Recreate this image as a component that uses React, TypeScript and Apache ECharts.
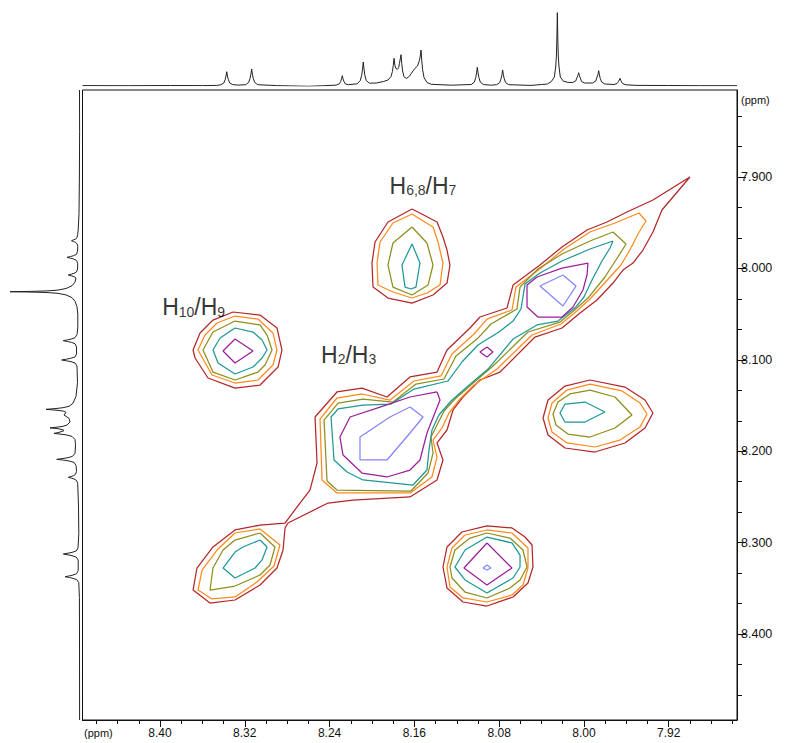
import React, { useEffect, useRef } from "react";
import * as echarts from "echarts";

// ---------- axes (ppm) ----------
const X_MIN = 7.8556;
const X_MAX = 8.4731;
const Y_MIN = 7.8048;
const Y_MAX = 8.4941;

const xMajorTicks = [7.92, 8.0, 8.08, 8.16, 8.24, 8.32, 8.4];
const xMinorTicks = [7.86, 7.88, 7.9, 7.94, 7.96, 7.98, 8.02, 8.04, 8.06, 8.1, 8.12, 8.14, 8.18, 8.2, 8.22, 8.26, 8.28, 8.3, 8.34, 8.36, 8.38, 8.42, 8.44, 8.46];
const yMajorTicks = [7.9, 8.0, 8.1, 8.2, 8.3, 8.4];
const yMinorTicks = [7.8333, 7.8667, 7.9333, 7.9667, 8.0333, 8.0667, 8.1333, 8.1667, 8.2333, 8.2667, 8.3333, 8.3667, 8.4333, 8.4667];

// ---------- 1D projections: [ppm, intensity] ----------
const topSpectrum = [
  [8.4731, 0.4], [8.43, 0.3], [8.39, 0.5], [8.36, 0.4],
  [8.3464, 0.6], [8.3427, 1.2], [8.3398, 3.0], [8.3385, 6.4], [8.3377, 10.0], [8.337, 14.3], [8.3363, 10.0], [8.3355, 6.4], [8.3342, 3.0], [8.3313, 1.4], [8.326, 0.9],
  [8.3192, 1.3], [8.3163, 3.6], [8.315, 7.7], [8.3142, 11.9], [8.3135, 17.0], [8.3128, 11.9], [8.312, 7.7], [8.3107, 3.6], [8.3078, 1.3],
  [8.29, 0.4], [8.26, -0.3], [8.245, 0.3],
  [8.2337, 0.9], [8.2308, 2.2], [8.2295, 4.6], [8.2287, 7.2], [8.228, 10.3], [8.2273, 7.2], [8.2265, 4.6], [8.2252, 2.2], [8.2223, 1.3],
  [8.2139, 2.2], [8.211, 5.5], [8.2097, 10.8], [8.2089, 16.8], [8.2082, 24.0], [8.2075, 16.8], [8.2067, 10.8], [8.2054, 5.5], [8.2025, 2.8],
  [8.196, 3.0], [8.189, 4.5],
  [8.1849, 6.0], [8.182, 9.5], [8.1807, 14.5], [8.1799, 20.5], [8.1792, 27.7], [8.1784, 21.0], [8.1774, 17.5], [8.1759, 16.7], [8.1748, 18.5], [8.1741, 22.5], [8.1733, 27.0], [8.1726, 31.3], [8.1719, 22.5], [8.1711, 15.0], [8.1698, 9.5], [8.1685, 8.0], [8.1672, 7.7], [8.1645, 10.0], [8.162, 14.0], [8.1594, 17.7], [8.157, 20.0], [8.1552, 25.7], [8.1544, 30.0], [8.1537, 36.0], [8.153, 25.2], [8.1522, 16.2], [8.1509, 8.5], [8.148, 3.4], [8.144, 1.7],
  [8.125, 0.8],
  [8.1063, 1.5], [8.1034, 3.9], [8.1021, 8.4], [8.1013, 13.1], [8.1006, 18.7], [8.0999, 13.1], [8.0991, 8.4], [8.0978, 3.9], [8.0949, 1.5],
  [8.088, 0.8],
  [8.0824, 1.3], [8.0795, 3.4], [8.0782, 7.2], [8.0774, 11.2], [8.0767, 16.0], [8.076, 11.2], [8.0752, 7.2], [8.0739, 3.4], [8.071, 1.3],
  [8.05, 0.6], [8.04, 1.5],
  [8.0345, 2.0], [8.0308, 4.4], [8.0279, 9.0], [8.0266, 20.0], [8.026, 30.0], [8.0256, 45.0], [8.0251, 73.3], [8.0246, 45.0], [8.0242, 30.0], [8.0236, 20.0], [8.0223, 9.0], [8.0194, 4.8], [8.015, 3.6],
  [8.0107, 3.5], [8.0078, 5.0], [8.0065, 8.5], [8.0057, 10.5], [8.005, 13.3], [8.0043, 10.5], [8.0035, 8.0], [8.0022, 4.5], [7.9993, 3.0],
  [7.9918, 3.0], [7.9889, 5.0], [7.9876, 9.0], [7.9868, 11.5], [7.9861, 15.3], [7.9854, 11.0], [7.9846, 7.5], [7.9833, 4.0], [7.9804, 2.0],
  [7.9717, 1.5], [7.9688, 2.5], [7.9675, 4.3], [7.9667, 6.0], [7.966, 7.7], [7.9653, 5.8], [7.9645, 4.0], [7.9632, 2.2], [7.9603, 1.2],
  [7.95, 0.6], [7.92, 0.5], [7.89, 0.3], [7.8556, 0.3],
];

const leftSpectrum = [
  [7.8048, 0.5], [7.85, 0.4], [7.9, 0.6], [7.94, 1.0], [7.958, 1.8],
  [7.9631, 2.4], [7.9664, 3.0], [7.9679, 4.5], [7.9688, 6.5], [7.9697, 8.5], [7.9706, 6.5], [7.9715, 4.5], [7.973, 3.0], [7.9763, 2.2],
  [7.9813, 2.5], [7.9846, 3.5], [7.9861, 6.5], [7.987, 9.5], [7.9879, 13.0], [7.9888, 9.5], [7.9897, 6.5], [7.9912, 3.5], [7.9945, 2.3],
  [8.0006, 2.4], [8.0039, 3.5], [8.0054, 6.0], [8.0063, 8.7], [8.0072, 11.7], [8.0081, 8.7], [8.009, 6.0], [8.0105, 4.0],
  [8.015, 5.0], [8.019, 8.0], [8.022, 14.0], [8.0237, 22.0], [8.0246, 33.0], [8.0251, 48.0], [8.0255, 70.0], [8.0259, 48.0], [8.0264, 33.0], [8.0273, 22.0], [8.029, 14.0], [8.032, 8.0], [8.036, 5.0], [8.042, 3.0], [8.05, 2.2], [8.065, 2.2],
  [8.0725, 3.0], [8.0758, 5.0], [8.0773, 9.0], [8.0782, 12.5], [8.0791, 16.7], [8.08, 12.5], [8.0809, 8.5], [8.0824, 5.0], [8.086, 3.5],
  [8.0936, 3.5], [8.0969, 5.0], [8.0984, 9.5], [8.0993, 13.5], [8.1002, 18.3], [8.1011, 13.5], [8.102, 9.0], [8.1035, 5.0], [8.1068, 3.0],
  [8.125, 2.5], [8.14, 4.0],
  [8.1476, 7.0], [8.1509, 11.0], [8.1524, 17.0], [8.1533, 24.0], [8.1542, 34.0], [8.1551, 24.0], [8.156, 17.0], [8.1575, 14.0], [8.1604, 16.0], [8.164, 11.0], [8.168, 10.0], [8.1715, 13.0], [8.173, 18.0], [8.1738, 24.0], [8.1745, 30.0], [8.1752, 23.0], [8.1765, 17.0], [8.1775, 16.0], [8.1787, 19.0], [8.1797, 22.0], [8.1805, 26.0], [8.1814, 19.0], [8.1823, 13.0], [8.1838, 8.0], [8.1871, 5.0], [8.193, 4.5],
  [8.2023, 5.0], [8.2056, 7.5], [8.2071, 12.0], [8.208, 17.0], [8.2089, 23.3], [8.2098, 16.5], [8.2107, 11.0], [8.2122, 6.0], [8.2155, 4.0],
  [8.222, 3.5], [8.2253, 4.5], [8.2268, 6.5], [8.2277, 9.0], [8.2286, 11.7], [8.2295, 8.5], [8.2304, 6.0], [8.2319, 3.5], [8.2352, 2.3],
  [8.26, 1.5], [8.29, 1.2],
  [8.3059, 2.0], [8.3092, 3.8], [8.3107, 8.0], [8.3116, 12.0], [8.3125, 16.7], [8.3134, 12.0], [8.3143, 8.0], [8.3158, 3.8], [8.3191, 1.8],
  [8.3307, 1.8], [8.334, 3.5], [8.3355, 7.0], [8.3364, 10.5], [8.3373, 15.0], [8.3382, 10.5], [8.3391, 7.0], [8.3406, 3.2], [8.3439, 1.2],
  [8.36, 0.6], [8.4, 0.5], [8.4941, 0.4],
];

// ---------- 2D contours: [F2 ppm, F1 ppm] ----------
const diagRed = [
  [7.9, 7.9], [7.9349, 7.9252], [7.9594, 7.9383], [7.9783, 7.9492], [7.9971, 7.958], [8.0207, 7.9766], [8.0415, 7.9963], [8.0669, 8.0182], [8.0726, 8.0433], [8.0981, 8.0532], [8.1075, 8.0652], [8.1292, 8.0893], [8.1386, 8.1134], [8.1641, 8.1188], [8.1858, 8.1407], [8.2094, 8.1309], [8.233, 8.1352], [8.2537, 8.1626], [8.2518, 8.2129], [8.2585, 8.2425], [8.2679, 8.2567], [8.282, 8.2786], [8.3056, 8.2808], [8.3292, 8.2862], [8.35, 8.3048], [8.3651, 8.3278], [8.3688, 8.3519], [8.3528, 8.3661], [8.3292, 8.3628], [8.3056, 8.3464], [8.2896, 8.3278], [8.2839, 8.3081], [8.282, 8.284], [8.2792, 8.2786], [8.2415, 8.2567], [8.2179, 8.2534], [8.1641, 8.2501], [8.1386, 8.2315], [8.133, 8.2096], [8.1386, 8.191], [8.1292, 8.1768], [8.1235, 8.1549], [8.1141, 8.1407], [8.0981, 8.1221], [8.0792, 8.1134], [8.0462, 8.0751], [8.0207, 8.0652], [8.0037, 8.0488], [7.9877, 8.0346], [7.9726, 8.016], [7.9632, 8.0018], [7.9537, 7.9941], [7.9443, 7.9799], [7.9349, 7.9602], [7.9264, 7.9361], [7.916, 7.9219],
];
const diagOrange = [
  [7.9481, 7.9394], [7.9707, 7.9503], [7.9943, 7.9602], [8.0188, 7.9788], [8.0405, 7.9996], [8.0641, 8.0204], [8.0679, 8.0455], [8.0915, 8.0554], [8.1037, 8.0718], [8.1245, 8.0937], [8.1349, 8.1177], [8.1603, 8.1232], [8.183, 8.144], [8.2094, 8.1374], [8.233, 8.1418], [8.249, 8.1648], [8.2471, 8.2315], [8.233, 8.2457], [8.1641, 8.2457], [8.1434, 8.2282], [8.1386, 8.2064], [8.1424, 8.1878], [8.1339, 8.1746], [8.1273, 8.1582], [8.1179, 8.144], [8.1037, 8.1276], [8.082, 8.1101], [8.049, 8.0729], [8.0217, 8.0608], [8.0056, 8.0455], [7.9943, 8.0335], [7.9745, 8.0083], [7.9651, 7.9963], [7.9556, 7.9777], [7.949, 7.9624], [7.9415, 7.9481],
];
const diagOlive = [
  [7.9726, 7.9602], [7.9943, 7.97], [8.0207, 7.9843], [8.0434, 8.0007], [8.0603, 8.0204], [8.0632, 8.0444], [8.0877, 8.0608], [8.1009, 8.0773], [8.1207, 8.0959], [8.132, 8.121], [8.1585, 8.1265], [8.1802, 8.1462], [8.2085, 8.1429], [8.232, 8.1473], [8.2452, 8.1659], [8.2424, 8.2326], [8.233, 8.2425], [8.1632, 8.2436], [8.1471, 8.2239], [8.1424, 8.202], [8.1443, 8.1845], [8.1386, 8.1713], [8.132, 8.156], [8.1217, 8.1429], [8.1066, 8.1276], [8.0858, 8.1068], [8.0528, 8.0696], [8.0226, 8.0587], [8.0066, 8.0433], [7.9962, 8.0324], [7.9802, 8.0094], [7.9698, 7.9908], [7.9603, 7.9733],
];
const diagTeal = [
  [7.9726, 7.97], [7.9943, 7.9788], [8.0207, 7.9919], [8.0415, 8.005], [8.0556, 8.0171], [8.0594, 8.0444], [8.0669, 8.0576], [8.0802, 8.0696], [8.1, 8.0838], [8.1151, 8.1024], [8.1283, 8.1232], [8.1603, 8.132], [8.182, 8.1484], [8.2085, 8.1495], [8.232, 8.1538], [8.2386, 8.1626], [8.2358, 8.2096], [8.2235, 8.2228], [8.2085, 8.2315], [8.1613, 8.237], [8.1481, 8.2206], [8.1462, 8.1987], [8.1434, 8.1768], [8.1368, 8.1604], [8.1254, 8.1451], [8.1094, 8.1287], [8.0905, 8.1101], [8.0669, 8.0773], [8.0443, 8.0619], [8.0245, 8.0576], [8.0075, 8.0422], [8.0, 8.0313], [7.9924, 8.0127], [7.983, 7.9919], [7.9754, 7.9777],
];
const h23Purple = [[8.1386, 8.1352], [8.1358, 8.144], [8.1481, 8.1801], [8.1547, 8.2096], [8.1641, 8.2206], [8.1858, 8.2282], [8.2094, 8.2239], [8.2273, 8.2042], [8.2302, 8.1845], [8.2207, 8.1626], [8.1924, 8.1517], [8.1641, 8.1407]];
const h23Blue = [[8.1641, 8.1517], [8.1518, 8.1626], [8.1641, 8.1801], [8.1858, 8.2096], [8.2113, 8.2096], [8.2113, 8.1845], [8.183, 8.1626]];
const smallPurple = [[8.0915, 8.086], [8.0858, 8.0915], [8.0915, 8.0969], [8.0981, 8.0915]];
const diag8Purple = [[7.9962, 7.9941], [7.9971, 8.0072], [8.0009, 8.0236], [8.0103, 8.0422], [8.0207, 8.0532], [8.0434, 8.0532], [8.0537, 8.0422], [8.0537, 8.0182], [8.0443, 8.0094], [8.0207, 7.9996]];
const diag8Blue = [[8.0198, 8.0072], [8.0075, 8.0193], [8.0198, 8.0411], [8.0415, 8.0193]];
const h10dOrange = [[8.3056, 8.2851], [8.2868, 8.3026], [8.2924, 8.3256], [8.3085, 8.3431], [8.3292, 8.3595], [8.3509, 8.3617], [8.3641, 8.3519], [8.3603, 8.33], [8.3462, 8.3081], [8.3292, 8.2895]];
const h10dOlive = [[8.3056, 8.2895], [8.2915, 8.3048], [8.2962, 8.3245], [8.3056, 8.3355], [8.3292, 8.3475], [8.3528, 8.3519], [8.35, 8.3278], [8.3405, 8.3081], [8.3292, 8.2972]];
const h10dTeal = [[8.3056, 8.2972], [8.299, 8.3048], [8.3037, 8.319], [8.3103, 8.3278], [8.3292, 8.3387], [8.3405, 8.3278], [8.3292, 8.3103], [8.3217, 8.3048]];
const h109Red = [[8.3311, 8.0477], [8.3056, 8.051], [8.2896, 8.0652], [8.2849, 8.0893], [8.2886, 8.1079], [8.3056, 8.1276], [8.3292, 8.1309], [8.3547, 8.1199], [8.3669, 8.098], [8.3688, 8.0893], [8.3622, 8.0707], [8.35, 8.0565]];
const h109Orange = [[8.3292, 8.0521], [8.3075, 8.0554], [8.2934, 8.0707], [8.2896, 8.0893], [8.2934, 8.1057], [8.3075, 8.1221], [8.3292, 8.1254], [8.3509, 8.1166], [8.3641, 8.0893], [8.3575, 8.0729], [8.3462, 8.0597]];
const h109Olive = [[8.3292, 8.0576], [8.3056, 8.0619], [8.299, 8.0729], [8.2943, 8.0893], [8.3009, 8.1057], [8.3075, 8.1134], [8.3292, 8.1221], [8.35, 8.1134], [8.3594, 8.0893], [8.35, 8.0696]];
const h109Teal = [[8.3292, 8.0652], [8.3122, 8.0696], [8.3037, 8.0783], [8.299, 8.0893], [8.3037, 8.098], [8.3122, 8.1079], [8.3292, 8.1155], [8.3452, 8.1035], [8.35, 8.0893], [8.3433, 8.0762]];
const h109Purple = [[8.3292, 8.0773], [8.3122, 8.0904], [8.3292, 8.1035], [8.3405, 8.0904]];
const h687Red = [[8.1622, 7.935], [8.1386, 7.9492], [8.133, 7.9657], [8.1292, 7.9799], [8.1264, 7.9963], [8.1292, 8.016], [8.1424, 8.0291], [8.1622, 8.0379], [8.1849, 8.0324], [8.199, 8.0204], [8.2, 7.9941], [8.1971, 7.9711], [8.1849, 7.9492]];
const h687Orange = [[8.1622, 7.9405], [8.1424, 7.9547], [8.1377, 7.9711], [8.133, 7.9941], [8.1358, 8.0182], [8.1481, 8.0269], [8.1622, 8.0324], [8.1802, 8.0258], [8.1943, 8.0182], [8.1952, 7.9941], [8.1924, 7.9711], [8.1802, 7.9503]];
const h687Olive = [[8.1622, 7.9547], [8.1481, 7.9722], [8.1424, 7.9963], [8.1471, 8.0182], [8.1622, 8.0291], [8.1802, 8.0204], [8.1849, 7.9963], [8.1802, 7.9722]];
const h687Teal = [[8.1622, 7.9733], [8.1547, 7.9941], [8.1585, 8.0204], [8.1632, 8.0225], [8.1688, 8.0204], [8.1717, 7.9963]];
const rightRed = [[7.9943, 8.1221], [7.9613, 8.1298], [7.9424, 8.144], [7.9349, 8.1582], [7.9424, 8.1746], [7.9613, 8.191], [7.9896, 8.2009], [8.0179, 8.1965], [8.0339, 8.1823], [8.0386, 8.1637], [8.0339, 8.144], [8.0179, 8.1287]];
const rightOrange = [[7.9943, 8.1265], [7.9641, 8.1341], [7.9471, 8.1473], [7.9405, 8.1593], [7.9471, 8.1735], [7.966, 8.1878], [7.9896, 8.1954], [8.016, 8.191], [8.0302, 8.179], [8.0339, 8.1637], [8.0302, 8.1473], [8.016, 8.1331]];
const rightOlive = [[7.9943, 8.1331], [7.9707, 8.1407], [7.9547, 8.1604], [7.9707, 8.1746], [7.9943, 8.1845], [8.0151, 8.1812], [8.0264, 8.1713], [8.0292, 8.1593], [8.0245, 8.1462], [8.0132, 8.1374]];
const rightTeal = [[7.999, 8.1462], [7.9802, 8.1571], [7.999, 8.1681], [8.0179, 8.1681], [8.0226, 8.1582], [8.0179, 8.1484]];
const lowRed = [[8.0915, 8.2818], [8.0679, 8.284], [8.0556, 8.2939], [8.049, 8.3026], [8.0481, 8.3267], [8.0528, 8.3442], [8.0669, 8.3595], [8.0915, 8.3694], [8.1141, 8.365], [8.1292, 8.3497], [8.133, 8.3267], [8.1292, 8.3048], [8.1151, 8.2884]];
const lowOrange = [[8.0915, 8.2862], [8.0679, 8.2895], [8.0528, 8.3059], [8.0528, 8.3278], [8.0575, 8.3464], [8.0679, 8.3573], [8.0915, 8.365], [8.1141, 8.3606], [8.1264, 8.3486], [8.1292, 8.3267], [8.1245, 8.3059], [8.1122, 8.2917]];
const lowOlive = [[8.0915, 8.2895], [8.0698, 8.295], [8.0575, 8.3081], [8.0537, 8.3267], [8.0603, 8.3409], [8.0698, 8.3497], [8.0915, 8.3606], [8.1122, 8.3541], [8.1245, 8.3387], [8.1264, 8.3267], [8.1217, 8.3081], [8.1075, 8.295]];
const lowTeal = [[8.0915, 8.2939], [8.0679, 8.3004], [8.0603, 8.3136], [8.0603, 8.3267], [8.0669, 8.3387], [8.0915, 8.3552], [8.1122, 8.3409], [8.1217, 8.3267], [8.1122, 8.3081]];
const lowPurple = [[8.0915, 8.3004], [8.0679, 8.3278], [8.0915, 8.3464], [8.1132, 8.3278]];
const lowBlue = [[8.0915, 8.3245], [8.0877, 8.3278], [8.0915, 8.33], [8.0952, 8.3278]];

const levelColors = ["#b3272b", "#ff8a1c", "#8e8e1e", "#1e9898", "#9b1f9b", "#8585ff"];

const contourSets = [
  { level: 0, pts: [diagRed, h109Red, h687Red, rightRed, lowRed] },
  { level: 1, pts: [diagOrange, h10dOrange, h109Orange, h687Orange, rightOrange, lowOrange] },
  { level: 2, pts: [diagOlive, h10dOlive, h109Olive, h687Olive, rightOlive, lowOlive] },
  { level: 3, pts: [diagTeal, h10dTeal, h109Teal, h687Teal, rightTeal, lowTeal] },
  { level: 4, pts: [h23Purple, smallPurple, diag8Purple, h109Purple, lowPurple] },
  { level: 5, pts: [h23Blue, diag8Blue, lowBlue] },
];

const labelPositions = [[8.1839, 7.9077], [8.3984, 8.0408], [8.2485, 8.0926]];
const labelParts = [["H", "6,8", "/H", "7"], ["H", "10", "/H", "9"], ["H", "2", "/H", "3"]];

const FONT = "'Liberation Sans', Arial, Helvetica, sans-serif";

function buildOption() {
  const contourSeries: any[] = [];
  contourSets.forEach((set) => {
    set.pts.forEach((poly) => {
      contourSeries.push({
        type: "line",
        xAxisIndex: 0,
        yAxisIndex: 0,
        data: [...poly, poly[0]],
        showSymbol: false,
        symbol: "none",
        silent: true,
        lineStyle: { color: levelColors[set.level], width: 1.25 },
        z: 3 + set.level,
      });
    });
  });

  return {
    animation: false,
    backgroundColor: "#fff",
    textStyle: { fontFamily: FONT },
    grid: [
      { left: 82.5, top: 90, width: 654.5, height: 630, show: true, borderColor: "#111", borderWidth: 1, backgroundColor: "transparent" },
      { left: 82.5, top: 4, width: 654.5, height: 82, show: false },
      { left: 0, top: 90, width: 80, height: 630, show: false },
    ],
    xAxis: [
      {
        type: "value", gridIndex: 0, min: X_MIN, max: X_MAX, inverse: true, position: "bottom",
        axisLine: { show: true, onZero: false, lineStyle: { color: "#111", width: 1 } },
        axisTick: { show: true, customValues: xMajorTicks, length: 7, lineStyle: { color: "#111" } },
        axisLabel: { show: true, customValues: xMajorTicks, formatter: (v: number) => v.toFixed(2), fontSize: 12, color: "#111", margin: 7, fontFamily: FONT },
        splitLine: { show: false },
      },
      {
        type: "value", gridIndex: 0, min: X_MIN, max: X_MAX, inverse: true, position: "bottom",
        axisLine: { show: false, onZero: false },
        axisTick: { show: true, customValues: xMinorTicks, length: 4, lineStyle: { color: "#111" } },
        axisLabel: { show: false },
        splitLine: { show: false },
      },
      { type: "value", gridIndex: 1, min: X_MIN, max: X_MAX, inverse: true, show: false },
      { type: "value", gridIndex: 2, min: 0, max: 80, inverse: true, show: false },
    ],
    yAxis: [
      {
        type: "value", gridIndex: 0, min: Y_MIN, max: Y_MAX, inverse: true, position: "right",
        axisLine: { show: true, onZero: false, lineStyle: { color: "#111", width: 1 } },
        axisTick: { show: true, customValues: yMajorTicks, length: 9, lineStyle: { color: "#111" } },
        axisLabel: { show: true, customValues: yMajorTicks, formatter: (v: number) => v.toFixed(3), fontSize: 12.5, color: "#111", margin: 4, fontFamily: FONT },
        splitLine: { show: false },
      },
      {
        type: "value", gridIndex: 0, min: Y_MIN, max: Y_MAX, inverse: true, position: "right",
        axisLine: { show: false, onZero: false },
        axisTick: { show: true, customValues: yMinorTicks, length: 5, lineStyle: { color: "#111" } },
        axisLabel: { show: false },
        splitLine: { show: false },
      },
      { type: "value", gridIndex: 1, min: 0, max: 82, show: false },
      { type: "value", gridIndex: 2, min: Y_MIN, max: Y_MAX, inverse: true, show: false },
    ],
    graphic: [
      { type: "text", left: 84, top: 727, style: { text: "(ppm)", fontSize: 11, fill: "#111", fontFamily: FONT } },
      { type: "text", left: 741, top: 94, style: { text: "(ppm)", fontSize: 11, fill: "#111", fontFamily: FONT } },
    ],
    series: [
      {
        type: "line", xAxisIndex: 2, yAxisIndex: 2, data: topSpectrum, showSymbol: false, symbol: "none", silent: true,
        lineStyle: { color: "#222", width: 1 },
      },
      {
        type: "line", xAxisIndex: 3, yAxisIndex: 3, data: leftSpectrum.map(([p, h]) => [h, p]), showSymbol: false, symbol: "none", silent: true,
        lineStyle: { color: "#222", width: 1 },
      },
      ...contourSeries,
      {
        type: "scatter", xAxisIndex: 0, yAxisIndex: 0, symbolSize: 1, silent: true,
        itemStyle: { color: "rgba(0,0,0,0)" },
        data: labelPositions,
        label: {
          show: true, position: "right", distance: 0, fontFamily: FONT,
          formatter: (p: any) => {
            const [a, b, c, d] = labelParts[p.dataIndex];
            return `{m|${a}}{s|${b}}{m|${c}}{s|${d}}`;
          },
          rich: {
            m: { fontSize: 23, lineHeight: 26, verticalAlign: "bottom", color: "#000", fontFamily: FONT },
            s: { fontSize: 14, lineHeight: 16, verticalAlign: "bottom", color: "#000", fontFamily: FONT },
          },
        },
        z: 20,
      },
    ],
  };
}

export default function App() {
  const ref = useRef<HTMLDivElement>(null);
  useEffect(() => {
    if (!ref.current) return;
    const chart = echarts.init(ref.current, undefined, { renderer: "svg" });
    chart.setOption(buildOption() as any);
    return () => chart.dispose();
  }, []);
  return (
    <div
      ref={ref}
      style={{ position: "absolute", left: 0, top: 0, width: 787, height: 743, background: "#fff" }}
    />
  );
}
